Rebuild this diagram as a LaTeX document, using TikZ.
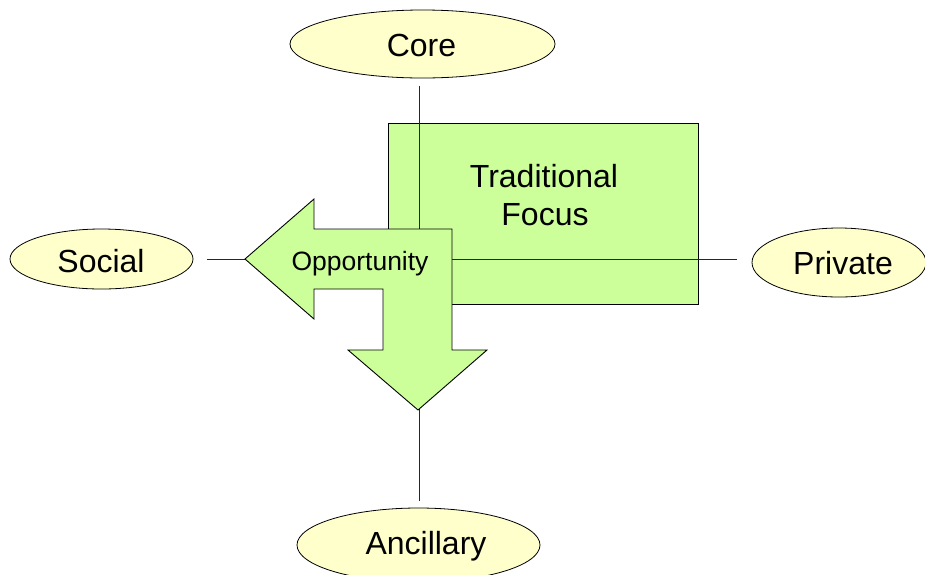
\documentclass[tikz,border=0pt]{standalone}
\usepackage{fontspec}
\setmainfont{Liberation Sans}
\usetikzlibrary{shapes.geometric}
\definecolor{paleyellow}{HTML}{FFFFCC}
\definecolor{palegreen}{HTML}{CCFF99}
\begin{document}
\begin{tikzpicture}[x=1pt,y=-1pt,
  axisnode/.style={ellipse,draw=black,line width=0.8pt,fill=paleyellow,inner sep=0pt},
  bigtext/.style={anchor=base,inner sep=0pt,font=\fontsize{32}{38}\selectfont},
  axisline/.style={draw=black!85,line width=0.9pt},
  greenshape/.style={draw=black,line width=0.9pt,fill=palegreen}]
\useasboundingbox (0,0) rectangle (925,574);

% the four poles of the two axes
\node[axisnode,minimum width=265pt,minimum height=68pt] (core) at (422.5,44) {};
\node[bigtext] (coretext) at (421.5,56) {Core};
\node[axisnode,minimum width=183pt,minimum height=60pt] (social) at (101.5,259) {};
\node[bigtext] (socialtext) at (101,272) {Social};
\node[axisnode,minimum width=174pt,minimum height=69pt] (private) at (839,262.5) {};
\node[bigtext] (privatetext) at (843,274) {Private};
\node[axisnode,minimum width=243pt,minimum height=74pt] (ancillary) at (418.5,545) {};
\node[bigtext] (ancillarytext) at (426,554) {Ancillary};

% traditional focus quadrant
\node[greenshape,rectangle,minimum width=310pt,minimum height=181pt,inner sep=0pt]
  (focusbox) at (543,213.5) {};
\node[bigtext] (focustext1) at (544,187) {Traditional};
\node[bigtext] (focustext2) at (545,225) {Focus};

% axis lines
\coordinate (vtop) at (419,86);
\coordinate (vbot) at (419,501);
\coordinate (hleft) at (207,259);
\coordinate (hright) at (737,259);
\draw[axisline] (vtop) -- (vbot);
\draw[axisline] (hleft) -- (hright);

% bent opportunity arrow
\draw[greenshape,line join=miter]
  (245,259) -- (314,199) -- (314,229) -- (452,229) -- (452,350) -- (487,350)
  -- (418,410) -- (348,350) -- (383,350) -- (383,289) -- (314,289) -- (314,319)
  -- cycle;
\node[anchor=base,inner sep=0pt,font=\fontsize{26.5}{30}\selectfont] (opportunity)
  at (360,270) {Opportunity};
\end{tikzpicture}
\end{document}
